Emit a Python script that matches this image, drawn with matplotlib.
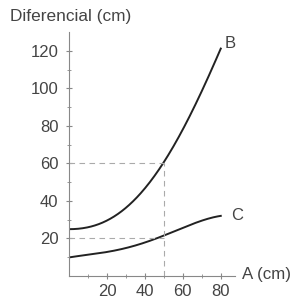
import matplotlib
matplotlib.use("Agg")
import matplotlib.pyplot as plt
import numpy as np

plt.rcParams['font.family'] = ['Liberation Sans', 'DejaVu Sans']

x_vals = [0, 10, 20, 30, 40, 50, 60, 70, 80]
b_vals = [25, 26, 29, 37, 47, 60, 78, 99, 121]
c_vals = [10, 11, 13, 15, 18, 21, 26, 29.5, 32]
xticks = [20, 40, 60, 80]
yticks = [20, 40, 60, 80, 100, 120]

fig = plt.figure(figsize=(2.94, 3.01), dpi=100)
ax = fig.add_axes([69/294, 25/301, 166/294, 244/301])

xs = np.linspace(0, 80, 200)
cb = np.polyfit(x_vals, b_vals, 4)
cc = np.polyfit(x_vals, c_vals, 4)
ax.plot(xs, np.polyval(cb, xs), color='#222222', lw=1.4)
ax.plot(xs, np.polyval(cc, xs), color='#222222', lw=1.4)

gc = '#aaaaaa'
ax.plot([0, 50], [60, 60], ls=(0, (5, 4)), color=gc, lw=0.8)
ax.plot([50, 50], [0, 60], ls=(0, (5, 4)), color=gc, lw=0.8)
ax.plot([0, 50], [20, 20], ls=(0, (5, 4)), color=gc, lw=0.8)

ax.set_xlim(0, 87.5)
ax.set_ylim(0, 130)
for s in ['top', 'right']:
    ax.spines[s].set_visible(False)
for s in ['left', 'bottom']:
    ax.spines[s].set_color('#888888')
    ax.spines[s].set_linewidth(0.8)
ax.set_xticks(xticks)
ax.set_yticks(yticks)
ax.set_xticks(np.arange(10, 81, 10), minor=True)
ax.set_yticks(np.arange(10, 121, 10), minor=True)
ax.tick_params(which='major', direction='inout', length=5, width=0.8, color='#888888',
               labelsize=12, labelcolor='#444444')
ax.tick_params(axis='y', which='major', pad=5)
ax.tick_params(axis='x', which='major', pad=3)
ax.tick_params(which='minor', direction='inout', length=3, width=0.6, color='#888888')

ax.text(82, 124, 'B', fontsize=12, color='#444444', ha='left', va='center')
ax.text(85.5, 32.5, 'C', fontsize=12, color='#444444', ha='left', va='center')
fig.text(10/294, 1 - 16/301, 'Diferencial (cm)', fontsize=12.4, color='#444444', ha='left', va='center')
fig.text(242/294, 1 - 275/301, 'A (cm)', fontsize=12.2, color='#444444', ha='left', va='center')

fig.savefig('out.png', dpi=100)
